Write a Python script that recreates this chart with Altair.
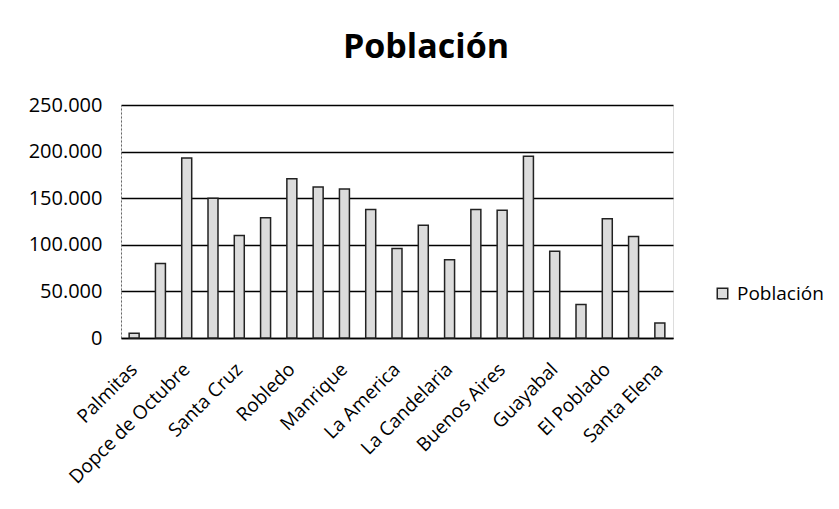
import altair as alt
import pandas as pd

categories = ["Palmitas", "San Cristóbal", "Dopce de Octubre", "Castilla", "Santa Cruz",
              "Popular", "Robledo", "Aranjuez", "Manrique", "Villa Hermosa", "La America",
              "Laureles", "La Candelaria", "San Javier", "Buenos Aires", "Belén",
              "Guayabal", "Altavista", "El Poblado", "San Antonio de Prado", "Santa Elena"]
values = [5000, 80000, 193000, 150000, 110000, 129000, 171000, 162000, 160000, 138000,
          96000, 121000, 84000, 138000, 137000, 195000, 93000, 36000, 128000, 109000, 16000]
shown_labels = ["Palmitas", "Dopce de Octubre", "Santa Cruz", "Robledo", "Manrique",
                "La America", "La Candelaria", "Buenos Aires", "Guayabal", "El Poblado",
                "Santa Elena"]
y_ticks = [0, 50000, 100000, 150000, 200000, 250000]
series_name = "Población"

df = pd.DataFrame({"Comuna": categories, "Población": values, "Serie": series_name})

FONT = "Open Sans"

chart = alt.Chart(df).mark_bar(
    stroke="#222222", strokeWidth=1.5, fill="#dcdcdc"
).encode(
    x=alt.X("Comuna:N", sort=categories,
            scale=alt.Scale(paddingInner=0.62, paddingOuter=0.31),
            axis=alt.Axis(title=None, values=shown_labels, labelAngle=-45,
                          labelAlign="right", labelBaseline="middle",
                          labelFont=FONT, labelFontSize=19, labelColor="#000",
                          labelPadding=28, ticks=False, domainColor="#000",
                          domainWidth=1.5, grid=False, labelOverlap=False)),
    y=alt.Y("Población:Q", scale=alt.Scale(domain=[0, 250000]),
            axis=alt.Axis(title=None, values=y_ticks, ticks=False,
                          labelExpr="replace(format(datum.value, ','), ',', '.')",
                          labelFont=FONT, labelFontSize=20, labelColor="#000",
                          labelPadding=19, gridColor="#000", gridWidth=1.3,
                          domainColor="#666", domainDash=[2, 2], domainWidth=1)),
    color=alt.Color("Serie:N", scale=alt.Scale(range=["#dcdcdc"]),
                    legend=alt.Legend(title=None, orient="none", legendX=592, legendY=179,
                                      symbolType="square", symbolSize=110,
                                      symbolStrokeColor="#222", symbolStrokeWidth=1.5,
                                      labelFont=FONT, labelFontSize=19, labelColor="#000",
                                      labelOffset=5))
).properties(
    width=552, height=233,
    title=alt.TitleParams(text="Población", font=FONT, fontSize=34, fontWeight="bold",
                          color="#000", anchor="middle", dx=29, offset=30),
    autosize=alt.AutoSizeParams(type="none"),
    padding={"left": 113, "top": 97, "right": 158, "bottom": 163}
).configure_view(stroke=None).configure(background="white")

chart.save("out.html", embed_options={"renderer": "svg", "actions": False})
